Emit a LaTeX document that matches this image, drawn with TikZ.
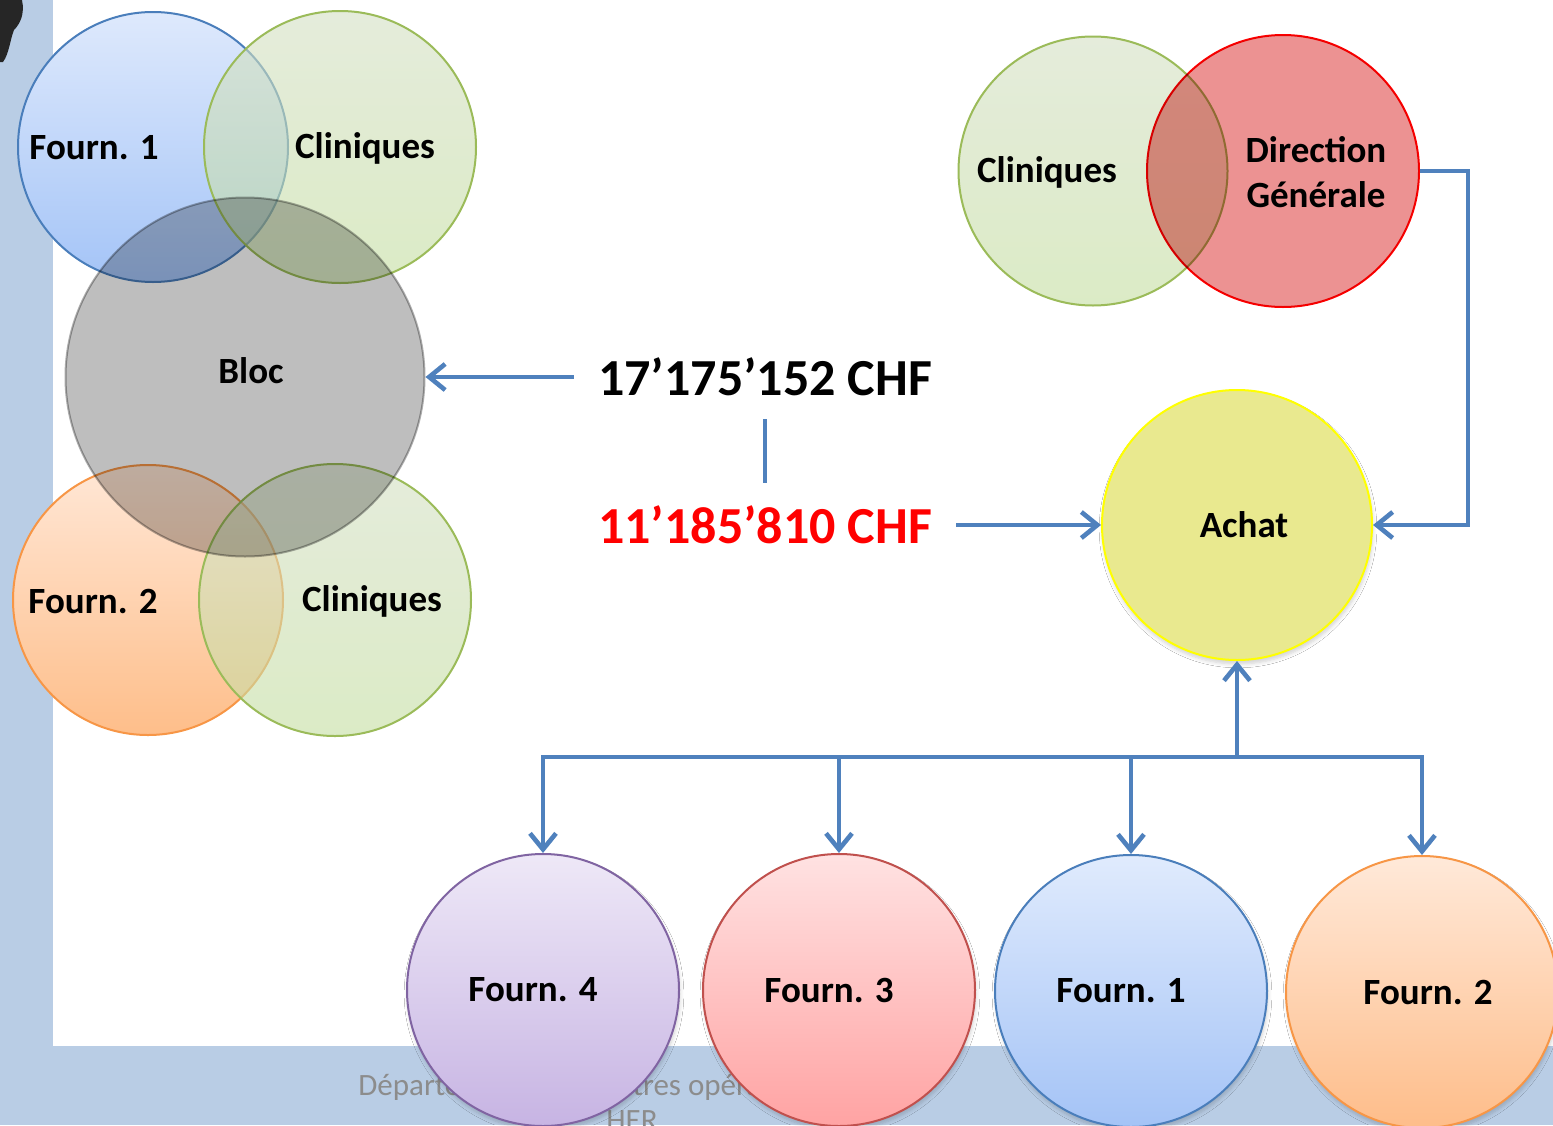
\documentclass[tikz,border=0pt]{standalone}
\usepackage{fontspec}
\setmainfont{Carlito}
\usetikzlibrary{arrows.meta, shadows.blur}
\definecolor{lineblue}{RGB}{79,129,189}
\definecolor{frameblue}{RGB}{185,205,229}
\definecolor{foottext}{RGB}{140,140,140}
\definecolor{blueedge}{RGB}{74,126,187}
\definecolor{greenedge}{RGB}{155,187,89}
\definecolor{orangeedge}{RGB}{247,150,70}
\definecolor{purpleedge}{RGB}{128,100,162}
\definecolor{rededge}{RGB}{192,80,77}
\tikzstyle{venn} = [circle, line width=1pt, inner sep=0pt]
\tikzstyle{bluevenn} = [venn, draw=blueedge, top color={rgb,255:red,222;green,233;blue,252}, bottom color={rgb,255:red,164;green,196;blue,247}]
\tikzstyle{orangevenn} = [venn, draw=orangeedge, top color={rgb,255:red,255;green,231;blue,214}, bottom color={rgb,255:red,254;green,190;blue,138}]
\tikzstyle{greenvenn} = [venn, draw=greenedge, fill opacity=0.6, top color={rgb,255:red,212;green,224;blue,196}, bottom color={rgb,255:red,196;green,222;blue,160}]
\tikzstyle{fourn} = [circle, minimum size=136pt, line width=1pt, inner sep=0pt, font=\fontsize{18.5}{22.5}\selectfont\bfseries, blur shadow={shadow xshift=0.5pt, shadow yshift=-2pt, shadow blur steps=6, shadow opacity=18}]
\tikzstyle{lbl} = [font=\fontsize{18.5}{22.5}\selectfont\bfseries, align=center, inner sep=0pt]
\tikzstyle{money} = [font=\fontsize{26}{30}\selectfont\bfseries, inner xsep=12pt, inner ysep=0pt, minimum height=42pt]
\tikzstyle{arrow} = [line width=2.3pt, draw=lineblue, -{Straight Barb[length=8pt,width=13pt]}]
\tikzstyle{line} = [line width=2.3pt, draw=lineblue]

\begin{document}
\begin{tikzpicture}[x=0.5pt, y=-0.5pt]
	\useasboundingbox (0,0) rectangle (1553,1125);
	% slide frame
	\fill[white] (0,0) rectangle (1553,1125);
	\fill[frameblue] (0,0) rectangle (53,1125);
	\fill[frameblue] (0,1046) rectangle (1553,1125);
	\fill[black!85] (0,0) -- (22,0) .. controls (25,14) and (20,24) .. (14,30) .. controls (10,40) and (9,54) .. (3,62) -- (0,62) -- cycle;
	\node (foot1) [anchor=base west, font=\fontsize{15.5}{18}\selectfont, text=foottext, inner sep=0pt] at (358,1095) {Département des Centres opératoires};
	\node (foot2) [anchor=base, font=\fontsize{15.5}{18}\selectfont, text=foottext, inner sep=0pt] at (632,1130) {HER};

	% Venn bloc
	\node (f1a) [bluevenn, minimum size=135pt] at (153,147) {};
	\node (cl1) [greenvenn, minimum size=136pt] at (340,147) {};
	\node (f2a) [orangevenn, minimum size=135pt] at (148,600) {};
	\node (cl2) [greenvenn, minimum size=136pt] at (335,600) {};
	\node (bloc) [venn, minimum size=179.5pt, blend mode=multiply, fill={rgb,255:red,190;green,190;blue,190}, draw={rgb,255:red,175;green,175;blue,175}] at (245,377) {};
	\node (lf1a) [lbl] at (94,148) {Fourn. 1};
	\node (lcl1) [lbl] at (365,148) {Cliniques};
	\node (lbloc) [lbl] at (251,371) {Bloc};
	\node (lf2a) [lbl] at (93,601) {Fourn. 2};
	\node (lcl2) [lbl] at (372,601) {Cliniques};

	% Venn direction
	\node (cl3) [greenvenn, minimum size=134.5pt] at (1093,171) {};
	\node (dir) [venn, minimum size=136pt, blend mode=multiply, fill={rgb,255:red,236;green,146;blue,146}, draw={rgb,255:red,255;green,0;blue,0}] at (1283,171) {};
	\node (lcl3) [lbl] at (1047,172) {Cliniques};
	\node (ldir) [lbl] at (1316,172) {Direction\\Générale};

	\node (achat) [fourn, minimum size=135pt, draw={rgb,255:red,255;green,255;blue,0}, fill={rgb,255:red,233;green,233;blue,143}] at (1237,525) {\hspace*{7pt}Achat};

	\node (f4) [fourn, draw=purpleedge, top color={rgb,255:red,238;green,232;blue,247}, bottom color={rgb,255:red,199;green,180;blue,227}] at (543,990) {Fourn. 4\hspace*{10pt}};
	\node (f3) [fourn, draw=rededge, top color={rgb,255:red,255;green,226;blue,226}, bottom color={rgb,255:red,255;green,163;blue,163}] at (839,990) {Fourn. 3\hspace*{10pt}};
	\node (f1b) [fourn, draw=blueedge, top color={rgb,255:red,224;green,235;blue,253}, bottom color={rgb,255:red,164;green,195;blue,246}] at (1131,991) {Fourn. 1\hspace*{10pt}};
	\node (f2b) [fourn, draw=orangeedge, top color={rgb,255:red,255;green,233;blue,217}, bottom color={rgb,255:red,254;green,189;blue,138}] at (1422,992) {\hspace*{6pt}Fourn. 2};

	\node (m17) [money] at (765,377) {17’175’152 CHF};
	\node (m11) [money, text={rgb,255:red,255;green,0;blue,0}] at (765,525) {11’185’810 CHF};

	\draw [arrow] (m17.west) -- (bloc.east);
	\draw [line] (m17.south) -- (m11.north);
	\draw [arrow] (m11.east) -- (achat.west);
	\draw [arrow] (dir.east) -- ++(48,0) |- (achat.east);
	\path (achat.south) ++(0,96) coordinate (bus);
	\draw [arrow] (bus) -- (achat.south);
	\foreach \f in {f4,f3,f1b,f2b}
		\draw [arrow] (bus) -| (\f.north);
\end{tikzpicture}
\end{document}
